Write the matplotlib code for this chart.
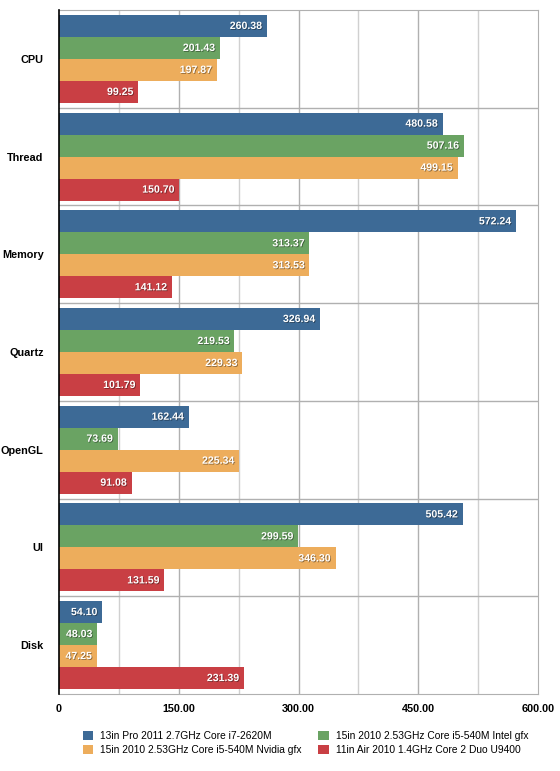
import matplotlib
matplotlib.use("Agg")
import matplotlib.pyplot as plt
import matplotlib.patheffects as pe
from matplotlib.patches import Patch
from matplotlib.transforms import offset_copy
import numpy as np

plt.rcParams['font.family'] = ['Liberation Sans', 'DejaVu Sans']

categories = ["CPU", "Thread", "Memory", "Quartz", "OpenGL", "UI", "Disk"]
series_names = [
    "13in Pro 2011 2.7GHz Core i7-2620M",
    "15in 2010 2.53GHz Core i5-540M Intel gfx",
    "15in 2010 2.53GHz Core i5-540M Nvidia gfx",
    "11in Air 2010 1.4GHz Core 2 Duo U9400",
]
pro_2011 = [260.38, 480.58, 572.24, 326.94, 162.44, 505.42, 54.10]
i5_intel = [201.43, 507.16, 313.37, 219.53, 73.69, 299.59, 48.03]
i5_nvidia = [197.87, 499.15, 313.53, 229.33, 225.34, 346.30, 47.25]
air_2010 = [99.25, 150.70, 141.12, 101.79, 91.08, 131.59, 231.39]
x_ticks = [0, 150, 300, 450, 600]
x_tick_labels = ["0", "150.00", "300.00", "450.00", "600.00"]

series = [pro_2011, i5_intel, i5_nvidia, air_2010]
colors = ["#3d6a96", "#6aa363", "#edad5c", "#c93f44"]

fig = plt.figure(figsize=(5.6, 7.71), dpi=100)
ax = fig.add_axes([0.1054, 0.0999, 0.8554, 0.887])

bar_h = 0.225
idx = np.arange(len(categories))
shadow = [pe.withSimplePatchShadow(offset=(0.6, -0.6), shadow_rgbFace="black", alpha=0.4)]

for i, (vals, col) in enumerate(zip(series, colors)):
    y = idx - 0.45 + bar_h * (i + 0.5)
    ax.barh(y, vals, height=bar_h, color=col, zorder=3, linewidth=0)
    trans = offset_copy(ax.transData, fig=fig, x=-5, y=0, units="dots")
    for yy, v in zip(y, vals):
        ax.text(v, yy, f"{v:.2f}", transform=trans, ha="right", va="center",
                color="white", fontsize=7.6, fontweight="bold", zorder=4,
                path_effects=shadow)

ax.set_xlim(0, 600)
ax.set_ylim(len(categories) - 0.5, -0.5)

# vertical grid: minor lighter, major darker
for xv in [75, 225, 375, 525]:
    ax.axvline(xv, color="#d0d0d0", lw=1, zorder=1)
for xv in [150, 300, 450]:
    ax.axvline(xv, color="#b0b0b0", lw=1, zorder=1)
# group separators
for yv in idx[:-1] + 0.5:
    ax.axhline(yv, color="#b0b0b0", lw=1, zorder=2)

ax.set_xticks(x_ticks)
ax.set_xticklabels(x_tick_labels, fontsize=7.8, fontweight="bold")
ax.set_yticks(idx)
ax.set_yticklabels(categories, fontsize=7.8, fontweight="bold")
ax.tick_params(length=0)
ax.tick_params(axis="x", pad=7)
ax.tick_params(axis="y", pad=11)

for side in ["top", "right", "bottom"]:
    ax.spines[side].set_color("#b0b0b0")
ax.spines["left"].set_color("black")
ax.spines["left"].set_linewidth(1.2)
ax.spines["left"].set_zorder(5)

# legend fills column-wise, so reorder to read row-wise like the original
order = [0, 2, 1, 3]
handles = [Patch(facecolor=colors[k], edgecolor="none") for k in order]
labels = [series_names[k] for k in order]
fig.legend(handles, labels, loc="upper left", ncol=2, frameon=False,
           bbox_to_anchor=(0.148, 0.052), borderpad=0, borderaxespad=0,
           prop={"size": 7.4},
           handlelength=1.0, handleheight=1.0, handletextpad=0.7,
           columnspacing=1.6, labelspacing=0.4)

fig.savefig("out.png", dpi=100)
